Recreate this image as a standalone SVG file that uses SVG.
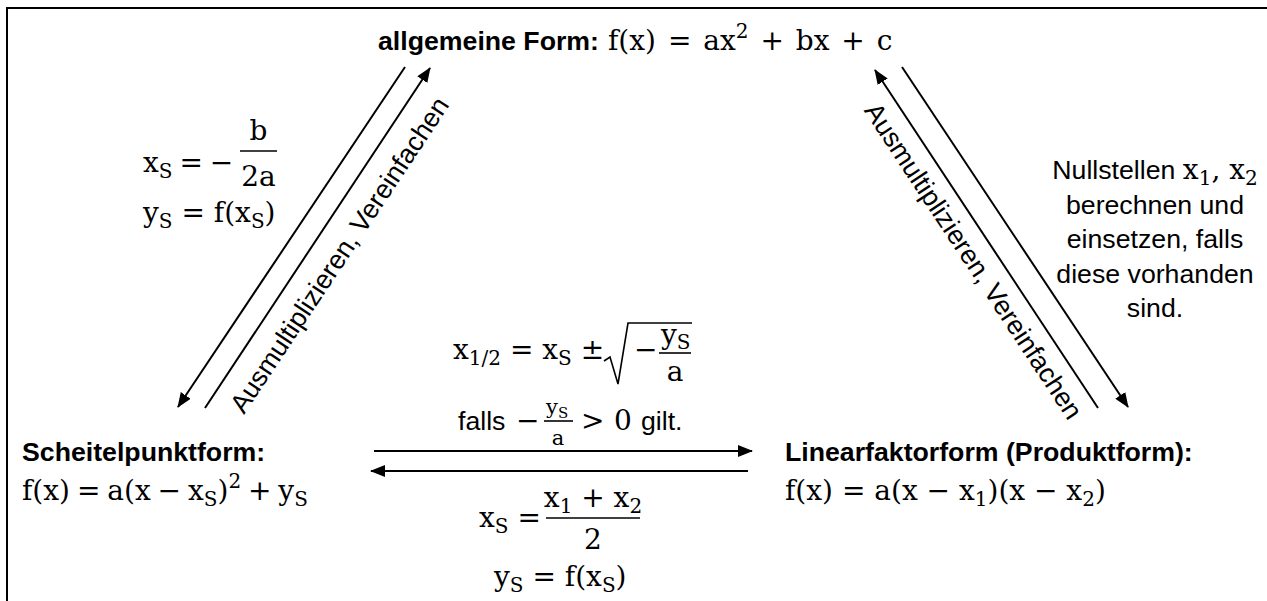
<svg xmlns="http://www.w3.org/2000/svg" width="1267" height="601" viewBox="0 0 1267 601">
<style>
.t{font-family:"Liberation Sans",Arial,sans-serif;font-size:26.7px;fill:#000}
.b{font-family:"Liberation Sans",Arial,sans-serif;font-size:26.7px;font-weight:bold;fill:#000}
.m{font-family:"DejaVu Serif","Liberation Serif",serif;font-size:28px;fill:#000}
.sub{font-size:20px}
.sm{font-family:"DejaVu Serif","Liberation Serif",serif;font-size:21px;fill:#000}
.ln{stroke:#000;stroke-width:2;fill:none}
.bar{stroke:#000;stroke-width:1.6}
</style>
<defs>
<marker id="ah" viewBox="0 0 15 12" refX="14" refY="6" markerWidth="15" markerHeight="12" markerUnits="userSpaceOnUse" orient="auto">
<path d="M0,0 L15,6 L0,12 Z" fill="#000"/>
</marker>
</defs>
<rect x="7" y="8" width="1300" height="700" fill="#fff" stroke="#000" stroke-width="2"/>

<g id="connectors">
<line class="ln" x1="405" y1="67" x2="178" y2="407" marker-end="url(#ah)"/>
<line class="ln" x1="205" y1="408" x2="430" y2="68" marker-end="url(#ah)"/>
<line class="ln" x1="1098" y1="408" x2="875" y2="70" marker-end="url(#ah)"/>
<line class="ln" x1="902" y1="67" x2="1128" y2="407" marker-end="url(#ah)"/>
<line class="ln" x1="374" y1="451" x2="752" y2="451" marker-end="url(#ah)"/>
<line class="ln" x1="748" y1="471" x2="371" y2="471" marker-end="url(#ah)"/>
</g>

<g id="node-allgemein">
<text class="b" x="378" y="50">allgemeine Form:</text>
<text class="m" x="608" y="50" word-spacing="3">f(x) = ax<tspan class="sub" dy="-12">2</tspan><tspan dy="12"> + bx + c</tspan></text>
</g>

<g id="node-scheitel">
<text class="b" x="22" y="461">Scheitelpunktform:</text>
<text class="m" x="22" y="500" word-spacing="-2">f(x) = a(x − x<tspan class="sub" dy="6">S</tspan><tspan dy="-6">)</tspan><tspan class="sub" dy="-12">2</tspan><tspan dy="12"> + y</tspan><tspan class="sub" dy="6">S</tspan></text>
</g>

<g id="node-linear">
<text class="b" x="785" y="461">Linearfaktorform (Produktform):</text>
<text class="m" x="785" y="500">f(x) = a(x − x<tspan class="sub" dy="6">1</tspan><tspan dy="-6">)(x − x</tspan><tspan class="sub" dy="6">2</tspan><tspan dy="-6">)</tspan></text>
</g>

<g id="label-left">
<text class="m" x="143" y="172" word-spacing="-2">x<tspan class="sub" dy="6">S</tspan><tspan dy="-6"> = −</tspan></text>
<line class="bar" x1="240" y1="151" x2="277" y2="151"/>
<text class="m" x="258.5" y="140" text-anchor="middle">b</text>
<text class="m" x="258.5" y="186" text-anchor="middle">2a</text>
<text class="m" x="143" y="222">y<tspan class="sub" dy="6">S</tspan><tspan dy="-6"> = f(x</tspan><tspan class="sub" dy="6">S</tspan><tspan dy="-6">)</tspan></text>
<text class="t" transform="translate(347,260) rotate(-56.4)" text-anchor="middle">Ausmultiplizieren, Vereinfachen</text>
</g>

<g id="label-right">
<text class="t" transform="translate(966,266) rotate(56.6)" text-anchor="middle">Ausmultiplizieren, Vereinfachen</text>
<text class="t" x="1155" y="179" text-anchor="middle">Nullstellen <tspan class="m">x<tspan class="sub" dy="6">1</tspan><tspan dy="-6">, x</tspan><tspan class="sub" dy="6">2</tspan></tspan></text>
<text class="t" x="1155" y="214" text-anchor="middle">berechnen und</text>
<text class="t" x="1155" y="248" text-anchor="middle">einsetzen, falls</text>
<text class="t" x="1155" y="283" text-anchor="middle">diese vorhanden</text>
<text class="t" x="1155" y="317" text-anchor="middle">sind.</text>
</g>

<g id="label-center-top">
<text class="m" x="453" y="359">x<tspan class="sub" dy="6">1/2</tspan><tspan dy="-6"> = x</tspan><tspan class="sub" dy="6">S</tspan><tspan dy="-6"> ±</tspan></text>
<path class="bar" fill="none" d="M604,361 L610,357 L618,384 L628,323 L692,323"/>
<text class="m" x="634" y="359">−</text>
<line class="bar" x1="659" y1="353" x2="691" y2="353"/>
<text class="m" x="661" y="344">y<tspan class="sub" dy="5">S</tspan></text>
<text class="m" x="675" y="381" text-anchor="middle">a</text>
<text class="t" x="458" y="430">falls</text>
<text class="m" x="516" y="430">−</text>
<line class="bar" x1="544" y1="421" x2="573" y2="421"/>
<text class="sm" x="546" y="414">y<tspan font-size="15" dy="4">S</tspan></text>
<text class="sm" x="558" y="445" text-anchor="middle">a</text>
<text class="m" x="581" y="430">&gt;</text>
<text class="m" x="614" y="430">0</text>
<text class="t" x="641" y="430">gilt.</text>
</g>

<g id="label-center-bottom">
<text class="m" x="479" y="527">x<tspan class="sub" dy="6">S</tspan><tspan dy="-6"> =</tspan></text>
<line class="bar" x1="546" y1="518" x2="640" y2="518"/>
<text class="m" x="593" y="507" text-anchor="middle">x<tspan class="sub" dy="6">1</tspan><tspan dy="-6"> + x</tspan><tspan class="sub" dy="6">2</tspan></text>
<text class="m" x="593" y="549" text-anchor="middle">2</text>
<text class="m" x="494" y="586">y<tspan class="sub" dy="6">S</tspan><tspan dy="-6"> = f(x</tspan><tspan class="sub" dy="6">S</tspan><tspan dy="-6">)</tspan></text>
</g>
</svg>
